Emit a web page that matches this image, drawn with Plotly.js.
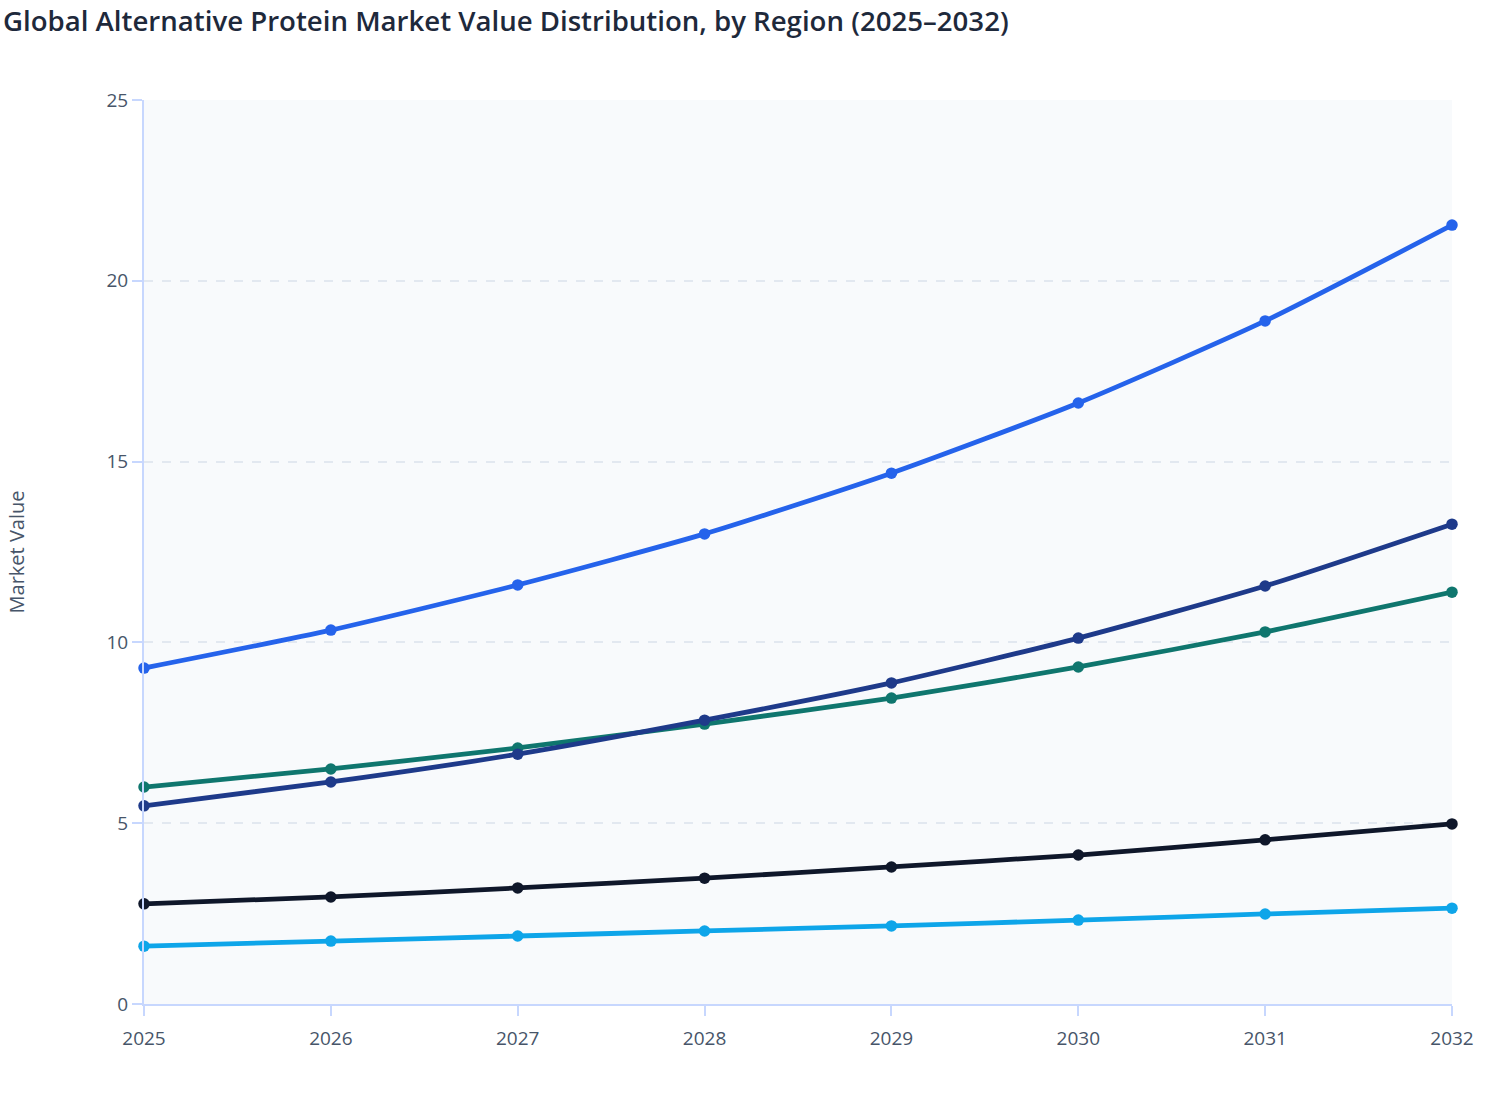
<!DOCTYPE html>
<html>
<head>
<meta charset="utf-8">
<script src="https://cdn.plot.ly/plotly-3.0.1.min.js"></script>
<style>html,body{margin:0;padding:0;background:#fff;}#chart{width:1508px;height:1120px;}</style>
</head>
<body>
<div id="chart"></div>
<script>
const years = ['2025','2026','2027','2028','2029','2030','2031','2032'];
const regionNames = ['North America','Europe','Asia Pacific','Latin America','Middle East & Africa'];
const northAmerica = [9.29, 10.34, 11.59, 13.0, 14.68, 16.62, 18.89, 21.54];
const europe = [6.0, 6.5, 7.08, 7.74, 8.46, 9.32, 10.29, 11.39];
const asiaPacific = [5.48, 6.14, 6.91, 7.85, 8.88, 10.12, 11.56, 13.27];
const latinAmerica = [2.77, 2.96, 3.21, 3.48, 3.79, 4.12, 4.54, 4.98];
const mea = [1.6, 1.74, 1.88, 2.02, 2.16, 2.32, 2.49, 2.65];
const yTicks = [0, 5, 10, 15, 20, 25];

const seriesValues = [northAmerica, europe, asiaPacific, latinAmerica, mea];
const colors = ['#2563eb', '#0f766e', '#1e3a8a', '#0f172a', '#0ea5e9'];

const traces = seriesValues.map((vals, i) => ({
  type: 'scatter',
  mode: 'lines+markers',
  name: regionNames[i],
  x: years,
  y: vals,
  cliponaxis: false,
  line: {color: colors[i], width: 4.8, shape: 'spline', smoothing: 0.6},
  marker: {color: colors[i], size: 11.5}
}));

const layout = {
  width: 1508, height: 1120,
  paper_bgcolor: '#ffffff',
  plot_bgcolor: '#f8fafc',
  showlegend: false,
  margin: {l: 144, r: 56, t: 100, b: 116},
  title: {
    text: 'Global Alternative Protein Market Value Distribution, by Region (2025–2032)',
    x: 0.002, xref: 'container', xanchor: 'left', y: 0.981, yref: 'container', yanchor: 'middle',
    font: {family: 'Open Sans, sans-serif', size: 27.6, color: '#1e293b', weight: 600}
  },
  font: {family: 'Open Sans, sans-serif', color: '#475569', size: 19},
  xaxis: {
    type: 'category',
    range: [0, 7],
    showgrid: false,
    showline: true, linecolor: '#c7d7fe', linewidth: 2,
    ticks: 'outside', ticklen: 10, tickcolor: '#c7d7fe', tickwidth: 2,
    ticklabelstandoff: 6,
    tickfont: {size: 19, color: '#475569'},
    zeroline: false
  },
  yaxis: {
    range: [0, 25],
    tickvals: yTicks,
    showgrid: true, gridcolor: '#e2e8f0', griddash: 'dash', gridwidth: 2,
    showline: true, linecolor: '#c7d7fe', linewidth: 2,
    ticks: 'outside', ticklen: 10, tickcolor: '#c7d7fe', tickwidth: 2,
    tickfont: {size: 19, color: '#475569'},
    zeroline: false,
    title: {text: 'Market Value', font: {size: 20, color: '#475569'}, standoff: 76}
  }
};

Plotly.newPlot('chart', traces, layout, {displayModeBar: false, responsive: false});
</script>
</body>
</html>
